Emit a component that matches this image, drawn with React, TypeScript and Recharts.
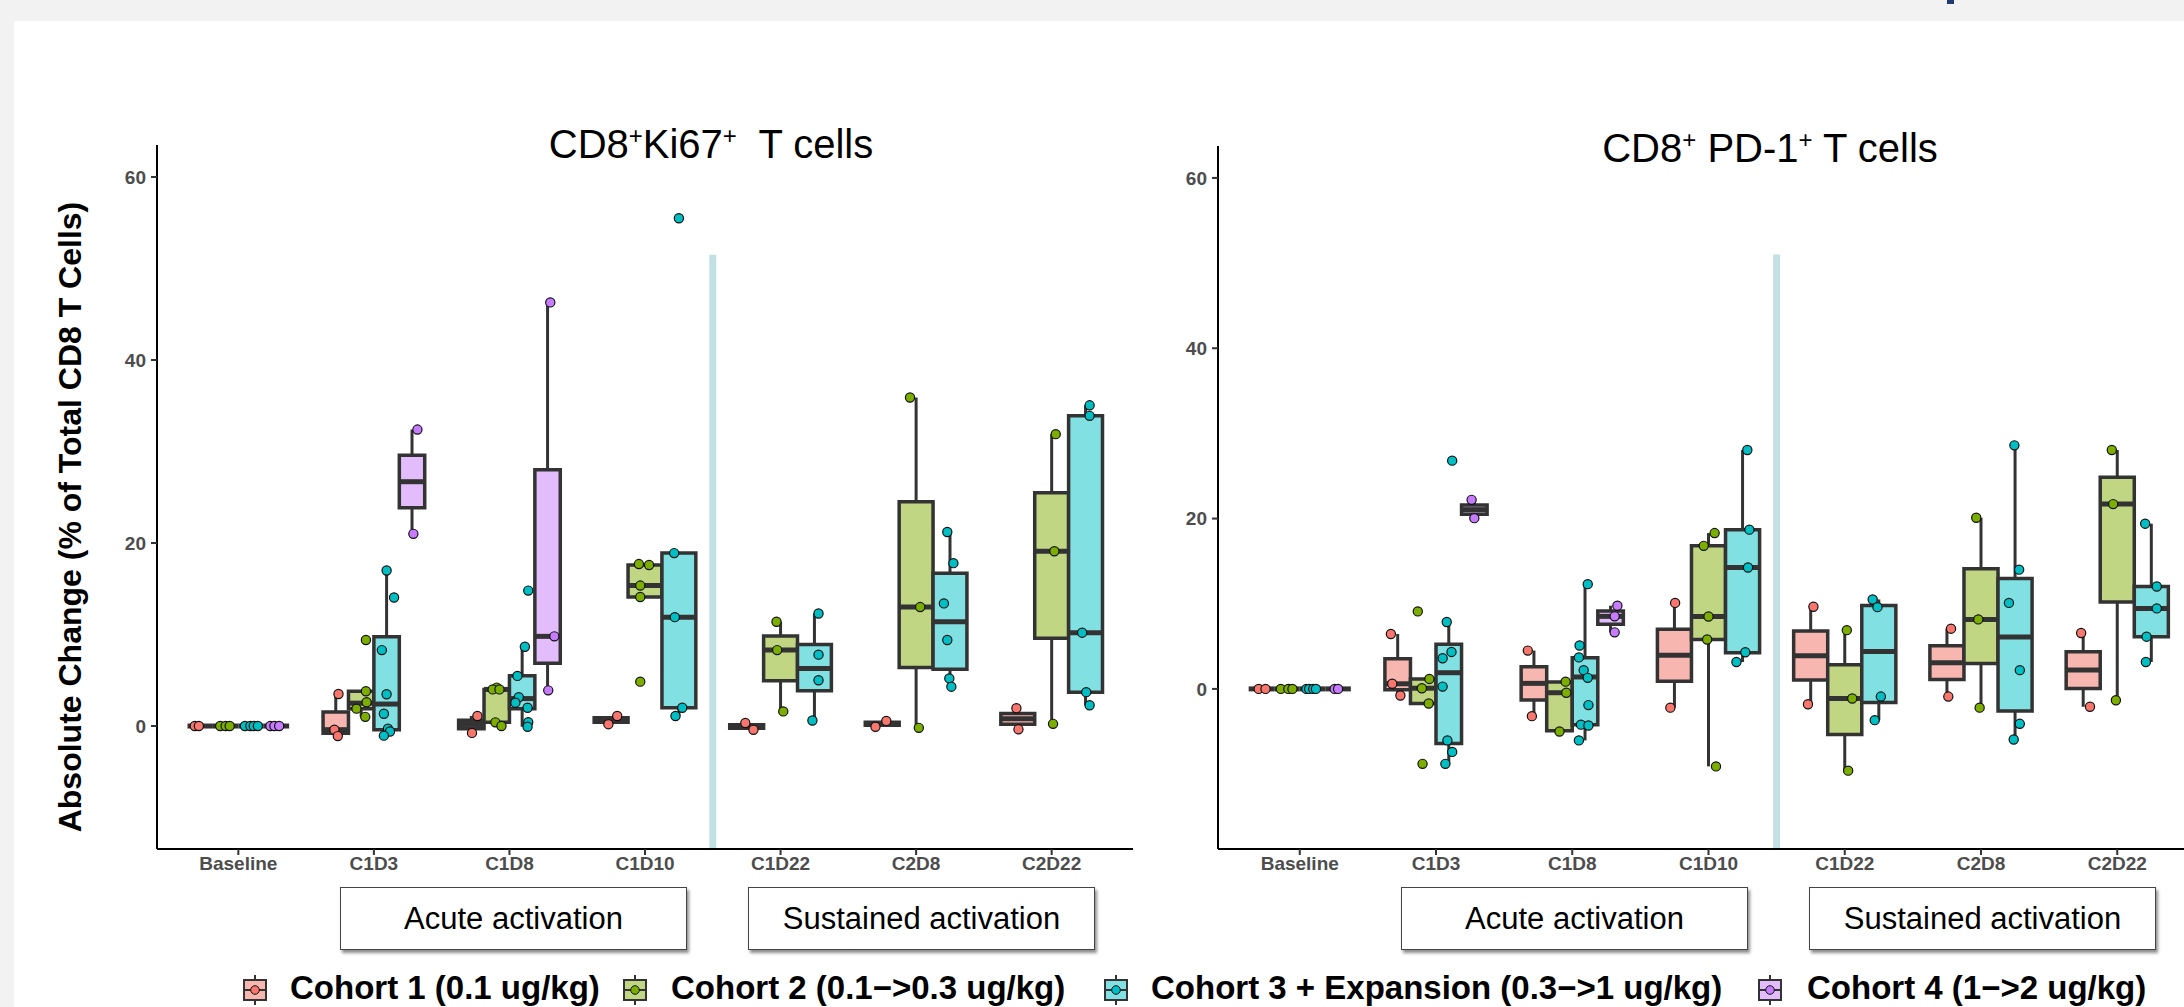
import { ScatterChart, Scatter, XAxis, YAxis, ReferenceArea, ReferenceLine } from 'recharts'

type Box = [number, number, number, number, number] | null
type Pt = [number, number]

const categories = ['Baseline', 'C1D3', 'C1D8', 'C1D10', 'C1D22', 'C2D8', 'C2D22']
const cohortNames = [
  'Cohort 1 (0.1 ug/kg)',
  'Cohort 2 (0.1\u2212>0.3 ug/kg)',
  'Cohort 3 + Expansion (0.3\u2212>1 ug/kg)',
  'Cohort 4 (1\u2212>2 ug/kg)',
]
const boxFills = ['#f8b6b1', '#c0d682', '#80e0e2', '#e2bcfb']
const pointFills = ['#f8766d', '#7cae00', '#00bfc4', '#c77cff']
const yTicks = [0, 20, 40, 60]

// box stats: [lower whisker, q1, median, q3, upper whisker]
// points: [value, horizontal jitter in category units]

// CD8+Ki67+
const ki67Box1: Box[] = [
  [0, 0, 0, 0, 0],
  [-1.1, -0.78, -0.4, 1.53, 3.5],
  [-0.75, -0.3, 0.17, 0.63, 1.1],
  [0.2, 0.4, 0.65, 0.9, 1.1],
  [-0.42, -0.23, -0.05, 0.15, 0.33],
  [-0.08, 0.08, 0.24, 0.4, 0.56],
  [-0.36, 0.2, 0.79, 1.37, 1.94],
]
const ki67Pts1: Pt[][] = [
  [[0, -0.04], [0, -0.01]],
  [[3.5, 0.02], [-0.4, -0.01], [-1.1, 0.015]],
  [[1.1, 0.045], [-0.75, 0.005]],
  [[1.1, 0.045], [0.2, -0.02]],
  [[0.33, -0.01], [-0.42, 0.05]],
  [[-0.08, -0.05], [0.56, 0.03]],
  [[1.94, -0.01], [-0.36, 0.005]],
]
const ki67Box2: Box[] = [
  [0, 0, 0, 0, 0],
  [1.0, 1.9, 2.5, 3.8, 3.8],
  [0.0, 0.4, 4.0, 4.0, 4.2],
  [14.1, 14.1, 15.35, 17.6, 17.7],
  [1.6, 4.94, 8.3, 9.85, 11.4],
  [-0.2, 6.4, 13.0, 24.5, 35.9],
  [0.24, 9.6, 19.1, 25.5, 31.9],
]
const ki67Pts2: Pt[][] = [
  [[0, -0.04], [0, 0], [0, 0.03]],
  [[9.4, 0.035], [3.8, 0.035], [2.6, 0.04], [1.9, -0.035], [1.0, 0.03]],
  [[4.2, 0], [4.0, -0.03], [4.0, 0.02], [0.4, -0.01], [0.0, 0.035]],
  [[17.7, -0.045], [17.6, 0.03], [15.35, -0.035], [14.1, -0.035], [4.85, -0.035]],
  [[11.4, -0.03], [8.3, -0.025], [1.6, 0.02]],
  [[35.9, -0.045], [13.0, 0.03], [-0.2, 0.02]],
  [[31.9, 0.03], [19.1, 0.02], [0.24, 0.01]],
]
const ki67Box3: Box[] = [
  [0, 0, 0, 0, 0],
  [-1.05, -0.4, 2.4, 9.75, 17.0],
  [-0.08, 1.9, 3.0, 5.5, 8.66],
  [1.09, 2.0, 11.9, 18.9, 18.9],
  [0.6, 3.85, 6.3, 8.9, 12.3],
  [4.3, 6.2, 11.4, 16.7, 21.2],
  [2.27, 3.69, 10.2, 33.9, 35.05],
]
const ki67Pts3: Pt[][] = [
  [[0, -0.045], [0, -0.005], [0, 0.02], [0, 0.05]],
  [[17.0, 0], [14.05, 0.055], [8.3, -0.035], [3.47, 0], [1.34, -0.02], [-0.3, 0.01], [-0.6, 0.025], [-1.05, -0.02]],
  [[14.8, 0.045], [8.66, 0.02], [5.48, -0.035], [3.14, -0.025], [2.55, -0.05], [2.0, 0.04], [0.42, 0.045], [-0.08, 0.04]],
  [[55.5, 0], [18.9, -0.035], [11.9, -0.03], [2.0, 0.025], [1.09, -0.025]],
  [[12.3, 0.03], [7.8, 0.03], [5.0, 0.03], [0.6, -0.015]],
  [[21.2, -0.02], [17.8, 0.025], [13.4, -0.045], [9.4, -0.02], [5.2, -0.005], [4.3, 0.01]],
  [[35.05, 0.03], [33.9, 0.03], [10.2, -0.025], [3.7, 0.005], [2.27, 0.03]],
]
const ki67Box4: Box[] = [
  [0, 0, 0, 0, 0],
  [21.0, 23.85, 26.7, 29.6, 32.4],
  [3.9, 6.85, 9.8, 28.0, 46.3],
  null, null, null, null,
]
const ki67Pts4: Pt[][] = [
  [[0, -0.045], [0, -0.015], [0, 0.02]],
  [[32.4, 0.04], [21.0, 0.01]],
  [[46.3, 0.02], [9.8, 0.05], [3.9, 0.005]],
  [], [], [], [],
]

// CD8+ PD-1+
const pd1Box1: Box[] = [
  [0, 0, 0, 0, 0],
  [-0.78, -0.1, 0.6, 3.55, 6.45],
  [-3.2, -1.3, 0.65, 2.6, 4.5],
  [-2.2, 0.9, 3.95, 7.0, 10.1],
  [-1.8, 1.05, 3.9, 6.8, 9.65],
  [-0.9, 1.09, 3.07, 5.08, 7.07],
  [-2.1, 0.05, 2.23, 4.37, 6.56],
]
const pd1Pts1: Pt[][] = [
  [[0, -0.02], [0, 0.03]],
  [[6.45, -0.05], [0.6, -0.04], [-0.78, 0.02]],
  [[4.5, -0.045], [-3.2, -0.015]],
  [[10.1, 0.005], [-2.2, -0.03]],
  [[9.65, 0.02], [-1.8, -0.02]],
  [[7.07, 0.03], [-0.9, 0.01]],
  [[6.56, -0.015], [-2.1, 0.05]],
]
const pd1Box2: Box[] = [
  [0, 0, 0, 0, 0],
  [-1.72, -1.72, 0.08, 1.17, 1.17],
  [-5.0, -4.9, -0.45, 0.8, 0.85],
  [-9.1, 5.8, 8.5, 16.8, 18.3],
  [-9.6, -5.35, -1.13, 2.85, 6.9],
  [-2.2, 2.97, 8.16, 14.1, 20.1],
  [-1.33, 10.2, 21.7, 24.85, 28.05],
]
const pd1Pts2: Pt[][] = [
  [[0, -0.045], [0, 0.01], [0, 0.04]],
  [[9.1, -0.04], [1.17, 0.045], [0.08, -0.01], [-1.72, 0.04], [-8.8, -0.005]],
  [[0.85, 0.045], [-0.45, 0.05], [-5.0, 0]],
  [[18.3, 0.045], [16.8, -0.035], [8.5, 0], [5.8, -0.01], [-9.1, 0.055]],
  [[6.9, 0.015], [-1.13, 0.055], [-9.6, 0.025]],
  [[20.1, -0.035], [8.16, -0.02], [-2.2, -0.01]],
  [[28.05, -0.04], [21.7, -0.03], [-1.33, -0.01]],
]
const pd1Box3: Box[] = [
  [0, 0, 0, 0, 0],
  [-8.8, -6.4, 1.9, 5.25, 7.85],
  [-6.05, -4.2, 1.4, 3.65, 12.3],
  [3.16, 4.25, 14.26, 18.7, 28.05],
  [-3.67, -1.6, 4.4, 9.8, 10.5],
  [-5.94, -2.6, 6.1, 12.95, 28.6],
  [3.16, 6.13, 9.45, 12.03, 19.4],
]
const pd1Pts3: Pt[][] = [
  [[0, -0.045], [0, -0.025], [0, 0.005], [0, 0.025]],
  [[26.8, 0.025], [7.85, -0.015], [4.34, 0.02], [3.6, -0.045], [0.27, -0.045], [-6.05, -0.01], [-7.4, 0.025], [-8.8, -0.025]],
  [[12.3, 0.02], [5.1, -0.04], [3.7, -0.045], [2.2, -0.01], [1.3, 0.02], [-1.9, 0.025], [-4.2, -0.03], [-4.3, 0.025], [-6.05, -0.045]],
  [[28.05, 0.035], [18.7, 0.05], [14.26, 0.04], [4.3, 0.02], [3.16, -0.045]],
  [[10.5, -0.045], [9.6, -0.01], [-0.9, 0.015], [-3.67, -0.03]],
  [[28.6, -0.005], [14.0, 0.03], [10.1, -0.045], [2.2, 0.035], [-4.1, 0.035], [-5.94, -0.01]],
  [[19.4, -0.045], [12.03, 0.04], [9.45, 0.04], [6.13, -0.035], [3.16, -0.04]],
]
const pd1Box4: Box[] = [
  [0, 0, 0, 0, 0],
  [20.05, 20.5, 21.05, 21.6, 22.2],
  [6.64, 7.58, 8.52, 9.15, 9.77],
  null, null, null, null,
]
const pd1Pts4: Pt[][] = [
  [[0, -0.025], [0, 0]],
  [[22.2, -0.02], [20.05, 0]],
  [[9.77, 0.05], [8.52, 0.03], [6.64, 0.03]],
  [], [], [], [],
]

const FONT = '"Liberation Sans", Arial, sans-serif'
const DARK = '#333333'

// ggplot-style dodge: boxes present in a category share a 0.75 wide slot
function dodge(boxes: Box[][], cat: number, cohort: number) {
  const present = boxes.map((b, i) => (b[cat] ? i : -1)).filter((i) => i >= 0)
  const w = 0.75 / present.length
  const k = present.indexOf(cohort)
  return { center: cat + 1 + (k - (present.length - 1) / 2) * w, w }
}

type PanelProps = {
  boxes: Box[][]
  points: Pt[][][]
  yDomain: [number, number]
  sepTop: number
  width: number
  height: number
  margin: { top: number; right: number; bottom: number; left: number }
  yAxisWidth: number
}

function BoxPanel({ boxes, points, yDomain, sepTop, width, height, margin, yAxisWidth }: PanelProps) {
  const whiskers: any[] = []
  const areas: any[] = []
  const medians: any[] = []
  boxes.forEach((series, s) =>
    series.forEach((b, c) => {
      if (!b) return
      const { center, w } = dodge(boxes, c, s)
      const [lo, q1, med, q3, hi] = b
      const key = `${s}-${c}`
      if (hi > q3)
        whiskers.push(
          <ReferenceLine key={`wh${key}`} ifOverflow="visible" segment={[{ x: center, y: q3 }, { x: center, y: hi }]} stroke={DARK} strokeWidth={3} />
        )
      if (lo < q1)
        whiskers.push(
          <ReferenceLine key={`wl${key}`} ifOverflow="visible" segment={[{ x: center, y: lo }, { x: center, y: q1 }]} stroke={DARK} strokeWidth={3} />
        )
      if (q3 > q1)
        areas.push(
          <ReferenceArea key={`a${key}`} ifOverflow="visible" x1={center - w / 2} x2={center + w / 2} y1={q1} y2={q3} fill={boxFills[s]} fillOpacity={1} stroke={DARK} strokeWidth={3.5} />
        )
      medians.push(
        <ReferenceLine key={`m${key}`} ifOverflow="visible" segment={[{ x: center - w / 2, y: med }, { x: center + w / 2, y: med }]} stroke={DARK} strokeWidth={5} />
      )
    })
  )

  const scatterData = points.map((series, s) =>
    series.flatMap((pts, c) => {
      if (!boxes[s][c]) return []
      const { center } = dodge(boxes, c, s)
      return pts.map(([y, j]) => ({ x: center + j, y }))
    })
  )

  const tickStyle = { fill: '#4d4d4d', fontSize: 19, fontWeight: 700, fontFamily: FONT }

  return (
    <ScatterChart width={width} height={height} margin={margin}>
      <XAxis
        type="number"
        dataKey="x"
        domain={[0.4, 7.6]}
        allowDataOverflow
        ticks={[1, 2, 3, 4, 5, 6, 7]}
        interval={0}
        tickFormatter={(v: number) => categories[v - 1]}
        height={40}
        tick={tickStyle}
        tickSize={6}
        axisLine={{ stroke: '#000', strokeWidth: 2 }}
        tickLine={{ stroke: DARK, strokeWidth: 2 }}
      />
      <YAxis
        type="number"
        dataKey="y"
        domain={yDomain}
        allowDataOverflow
        ticks={yTicks}
        interval={0}
        width={yAxisWidth}
        tick={tickStyle}
        tickSize={6}
        tickMargin={5}
        axisLine={{ stroke: '#000', strokeWidth: 2 }}
        tickLine={{ stroke: DARK, strokeWidth: 2 }}
      />
      <ReferenceLine
        ifOverflow="visible"
        segment={[{ x: 4.5, y: yDomain[0] }, { x: 4.5, y: sepTop }]}
        stroke="#c3e0e4"
        strokeWidth={7}
      />
      {whiskers}
      {areas}
      {medians}
      {scatterData.map((data, s) => (
        <Scatter
          key={s}
          data={data}
          isAnimationActive={false}
          shape={(p: any) => <circle cx={p.cx} cy={p.cy} r={4.6} fill={pointFills[s]} stroke="#111" strokeWidth={1.2} />}
        />
      ))}
    </ScatterChart>
  )
}

function PhaseBox({ left, text }: { left: number; text: string }) {
  return (
    <div
      style={{
        position: 'absolute',
        left,
        top: 887,
        width: 345,
        height: 61,
        border: '1px solid #444',
        boxShadow: '2px 3px 3px rgba(0,0,0,0.45)',
        background: '#fff',
        fontFamily: FONT,
        fontSize: 31,
        lineHeight: '61px',
        textAlign: 'center',
        color: '#000',
      }}
    >
      {text}
    </div>
  )
}

function Title({ center, top, children }: { center: number; top: number; children: any }) {
  return (
    <div
      style={{
        position: 'absolute',
        left: center - 300,
        top,
        width: 600,
        textAlign: 'center',
        fontFamily: FONT,
        fontSize: 40,
        lineHeight: '40px',
        color: '#000',
        whiteSpace: 'pre',
      }}
    >
      {children}
    </div>
  )
}

const supStyle = { fontSize: 24, position: 'relative' as const, top: -14 }

function LegendKey({ i }: { i: number }) {
  return (
    <svg width={30} height={30} style={{ display: 'block' }}>
      <line x1={15} y1={0} x2={15} y2={30} stroke={DARK} strokeWidth={2} />
      <rect x={4} y={5} width={22} height={20} fill={boxFills[i]} stroke={DARK} strokeWidth={2} />
      <line x1={4} y1={15} x2={26} y2={15} stroke={DARK} strokeWidth={2} />
      <circle cx={15} cy={15} r={4.3} fill={pointFills[i]} stroke="#111" strokeWidth={1} />
    </svg>
  )
}

const legendKeyX = [240, 620, 1101, 1755]
const legendTextX = [290, 671, 1151, 1807]

export default function App() {
  return (
    <div style={{ position: 'absolute', left: 0, top: 0, width: 2184, height: 1007, overflow: 'hidden', background: '#f2f2f2' }}>
      <div style={{ position: 'absolute', left: 14, top: 21, right: 0, bottom: 0, background: '#fff' }} />
      <div style={{ position: 'absolute', left: 1947, top: 0, width: 7, height: 4, background: '#1f3a6e' }} />

      <div style={{ position: 'absolute', left: 0, top: 0 }}>
        <BoxPanel
          boxes={[ki67Box1, ki67Box2, ki67Box3, ki67Box4]}
          points={[ki67Pts1, ki67Pts2, ki67Pts3, ki67Pts4]}
          yDomain={[-13.44, 63.5]}
          sepTop={51.5}
          width={1150}
          height={900}
          margin={{ top: 145, right: 17, bottom: 11, left: 97 }}
          yAxisWidth={60}
        />
      </div>
      <div style={{ position: 'absolute', left: 1160, top: 0 }}>
        <BoxPanel
          boxes={[pd1Box1, pd1Box2, pd1Box3, pd1Box4]}
          points={[pd1Pts1, pd1Pts2, pd1Pts3, pd1Pts4]}
          yDomain={[-18.8, 63.75]}
          sepTop={51.0}
          width={1060}
          height={900}
          margin={{ top: 146, right: 21, bottom: 11, left: 0 }}
          yAxisWidth={58}
        />
      </div>

      <Title center={711} top={124}>
        CD8<span style={supStyle}>+</span>Ki67<span style={supStyle}>+</span>{'  T cells'}
      </Title>
      <Title center={1770} top={128}>
        CD8<span style={supStyle}>+</span>{' PD-1'}<span style={supStyle}>+</span>{' T cells'}
      </Title>

      <div
        style={{
          position: 'absolute',
          left: 70 - 360,
          top: 517 - 20,
          width: 720,
          height: 40,
          lineHeight: '40px',
          textAlign: 'center',
          transform: 'rotate(-90deg)',
          fontFamily: FONT,
          fontWeight: 700,
          fontSize: 32,
          color: '#000',
          whiteSpace: 'nowrap',
        }}
      >
        Absolute Change (% of Total CD8 T Cells)
      </div>

      <PhaseBox left={340} text="Acute activation" />
      <PhaseBox left={748} text="Sustained activation" />
      <PhaseBox left={1401} text="Acute activation" />
      <PhaseBox left={1809} text="Sustained activation" />

      {cohortNames.map((name, i) => (
        <div key={name}>
          <div style={{ position: 'absolute', left: legendKeyX[i], top: 975 }}>
            <LegendKey i={i} />
          </div>
          <div
            style={{
              position: 'absolute',
              left: legendTextX[i],
              top: 971,
              fontFamily: FONT,
              fontWeight: 700,
              fontSize: 33,
              lineHeight: '33px',
              color: '#000',
              whiteSpace: 'nowrap',
            }}
          >
            {name}
          </div>
        </div>
      ))}
    </div>
  )
}
